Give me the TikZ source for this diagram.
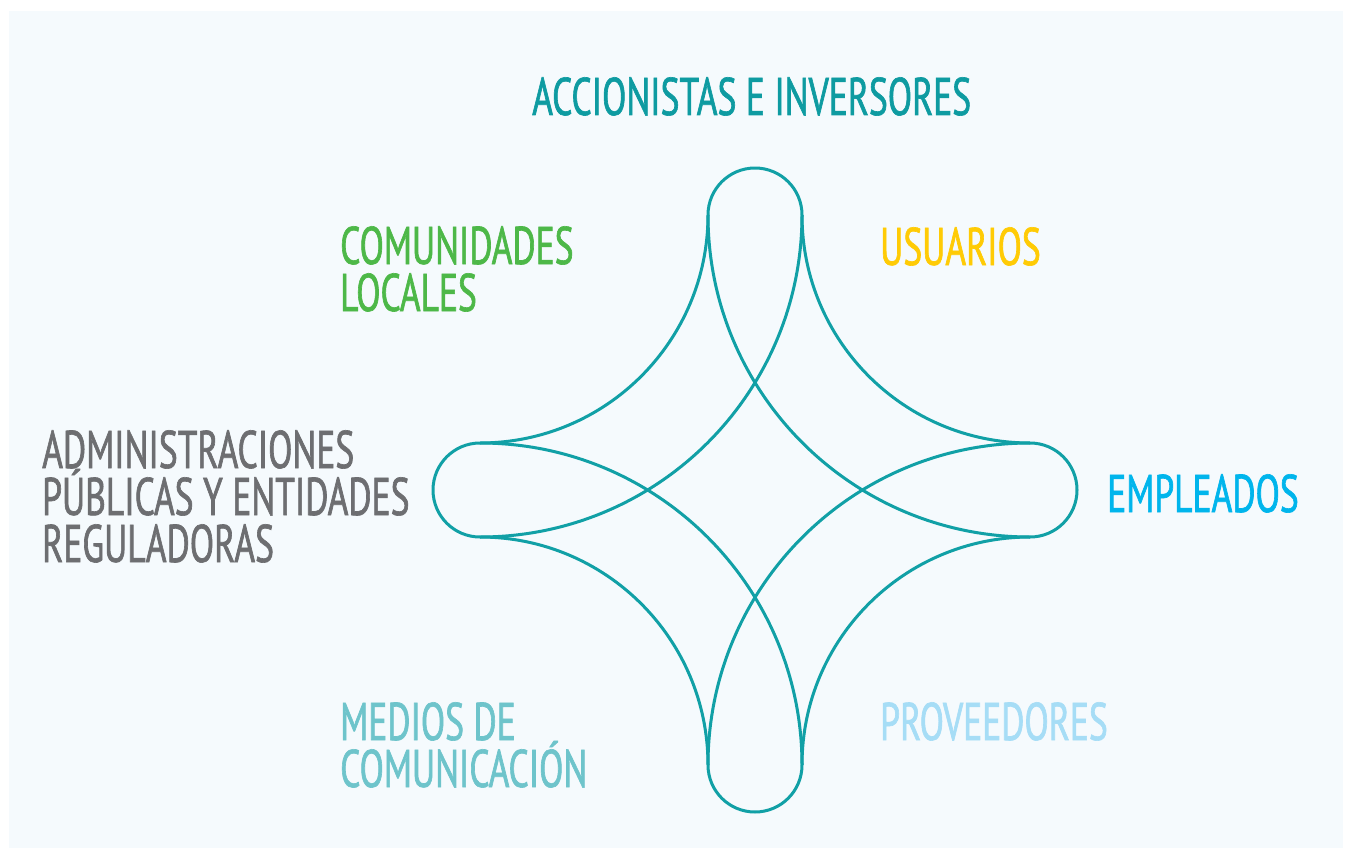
\documentclass[tikz,border=0pt]{standalone}
\usepackage{fontspec}
\setmainfont[FakeStretch=0.67,FakeBold=1.2]{PT Sans}
\definecolor{bgblue}{HTML}{F5FAFD}
\definecolor{starteal}{HTML}{11A0A6}
\definecolor{accteal}{HTML}{0E9BA1}
\definecolor{usuyellow}{HTML}{FFCB05}
\definecolor{empcyan}{HTML}{00B5EC}
\definecolor{provblue}{HTML}{A6DDF6}
\definecolor{medteal}{HTML}{6EC4CB}
\definecolor{admgray}{HTML}{6D6E71}
\definecolor{comgreen}{HTML}{4DB848}

\tikzset{
  starline/.style={draw=starteal, line width=3pt, line join=round},
  label/.style={anchor=base west, inner sep=0pt, align=left,
    font=\fontsize{53}{47}\selectfont}
}

\begin{document}
\begin{tikzpicture}[x=1pt,y=-1pt]
\useasboundingbox (0,0) rectangle (1352,856);
\fill[bgblue] (9,11) rectangle (1343,848);

% outline of the star
\draw[starline] (708,215) arc[start angle=180,end angle=360,radius=47]
  arc[start angle=180,end angle=90,radius=228]
  arc[start angle=270,end angle=450,radius=47]
  arc[start angle=270,end angle=180,radius=228]
  arc[start angle=0,end angle=180,radius=47]
  arc[start angle=360,end angle=270,radius=228]
  arc[start angle=90,end angle=270,radius=47]
  arc[start angle=90,end angle=0,radius=228] -- cycle;

% inner arcs
\draw[starline] (802,215) arc[start angle=0,end angle=90,radius=322];
\draw[starline] (708,215) arc[start angle=180,end angle=90,radius=322];
\draw[starline] (480,443) arc[start angle=270,end angle=360,radius=322];
\draw[starline] (1030,443) arc[start angle=270,end angle=180,radius=322];

% labels (multi-line ones sit on their last baseline)
\node[label, text=accteal] (acc) at (532,115) {ACCIONISTAS E INVERSORES};
\node[label, text=comgreen] (com) at (340,311) {COMUNIDADES\\LOCALES};
\node[label, text=usuyellow] (usu) at (880,265) {USUARIOS};
\node[label, text=admgray] (adm) at (42,562) {ADMINISTRACIONES\\PÚBLICAS Y ENTIDADES\\REGULADORAS};
\node[label, text=empcyan] (emp) at (1107,512) {EMPLEADOS};
\node[label, text=provblue] (prov) at (880,740) {PROVEEDORES};
\node[label, text=medteal] (med) at (340,787) {MEDIOS DE\\COMUNICACIÓN};
\end{tikzpicture}
\end{document}
